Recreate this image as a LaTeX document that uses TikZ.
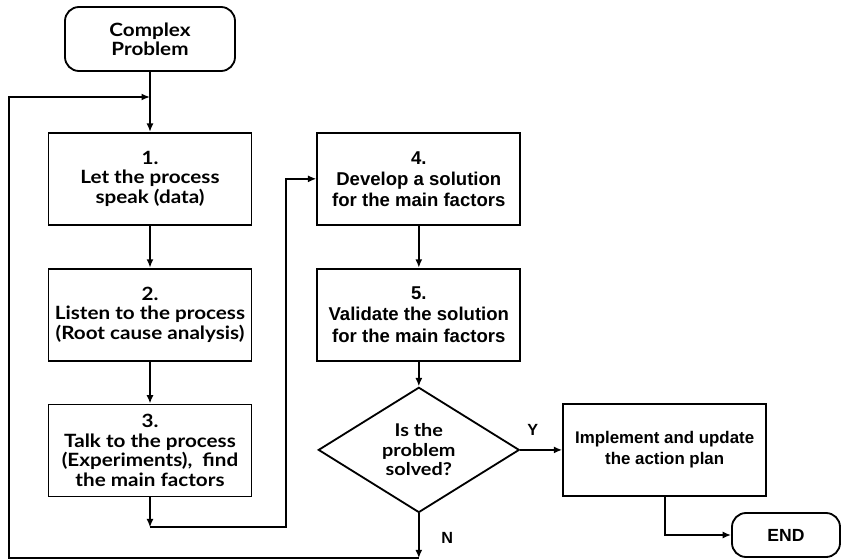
\documentclass[tikz,border=0pt]{standalone}
\usepackage{fontspec}
\setmainfont{Lato}[BoldFeatures={FakeStretch=1.13}]
\newfontfamily\helv{Liberation Sans}
\usetikzlibrary{positioning}
\usetikzlibrary{shapes,arrows.meta}

\tikzset{
  stepbox/.style={draw, line width=1.3pt, minimum width=5.075cm, minimum height=2.3cm,
    align=center, inner sep=2pt, font=\bfseries\fontsize{13}{13.8}\selectfont},
  solbox/.style={stepbox, font=\helv\bfseries\fontsize{13.2}{15}\selectfont},
  termbox/.style={draw, line width=1.3pt, rounded corners=0.35cm, align=center},
  decision/.style={draw, diamond, line width=1.3pt, minimum width=5.025cm,
    minimum height=3.025cm, inner sep=0pt, align=center,
    font=\bfseries\fontsize{12.5}{13.8}\selectfont},
  flow/.style={line width=1.3pt, -{Latex[length=6pt,width=5pt]}},
  yn/.style={font=\helv\bfseries\fontsize{11.5}{13}\selectfont}
}

\begin{document}
\begin{tikzpicture}
        \useasboundingbox (0,0) rectangle (21.05,-13.975);
        % Define nodes
        \node[termbox, minimum width=4.25cm, minimum height=1.6cm,
          font=\bfseries\fontsize{13}{13.3}\selectfont] (cp) at (3.75,-0.975) {Complex\\Problem};
        \node[stepbox, below=1.5cm of cp] (b1) {1.\\Let the process\\speak (data)};
        \node[stepbox, below=1.05cm of b1] (b2) {2.\\Listen to the process\\(Root cause analysis)};
        \node[stepbox, below=1.05cm of b2] (b3) {3.\\Talk to the process\\(Experiments),\ \ find\\the main factors};
        \node[solbox, right=1.6cm of b1] (b4) {4.\\Develop a solution\\for the main factors};
        \node[solbox, below=1.05cm of b4] (b5) {5.\\Validate the solution\\for the main factors};
        \node[decision, below=0.62cm of b5] (dec) {Is the\\problem\\solved?};
        \node[solbox, right=1.05cm of dec,
          font=\helv\bfseries\fontsize{12}{15}\selectfont] (impl) {Implement and update\\the action plan};
        \node[termbox, minimum width=2.7cm, minimum height=1.1cm,
          font=\helv\bfseries\fontsize{12.5}{14}\selectfont] (end) at (19.65,-13.375) {END};
        % Helper points
        \coordinate (fbl) at (0.225,-2.425);
        \coordinate (fbin) at (3.75,-2.425);
        \coordinate (kx) at (7.15,0);
        \path (b3.south) ++(0,-0.75) coordinate (j3);
        \path (dec.south) ++(0,-1.12) coordinate (nd);
        % Connect nodes
        \draw[flow] (cp) -- (b1);
        \draw[flow] (b1) -- (b2);
        \draw[flow] (b2) -- (b3);
        \draw[flow] (b3) -- (j3);
        \draw[flow] (j3) -| (b4.west -| kx) -- (b4.west);
        \draw[flow] (b4) -- (b5);
        \draw[flow] (b5) -- (dec);
        \draw[flow] (dec) -- node[yn, above=6pt, pos=0.3] {Y} (impl);
        \draw[flow] (dec) -- node[yn, right=12pt, pos=0.55] {N} (nd);
        \draw[flow] (nd) -| (fbl) -- (fbin);
        \draw[flow] (impl.south) |- (end.west);
    \end{tikzpicture}
\end{document}
